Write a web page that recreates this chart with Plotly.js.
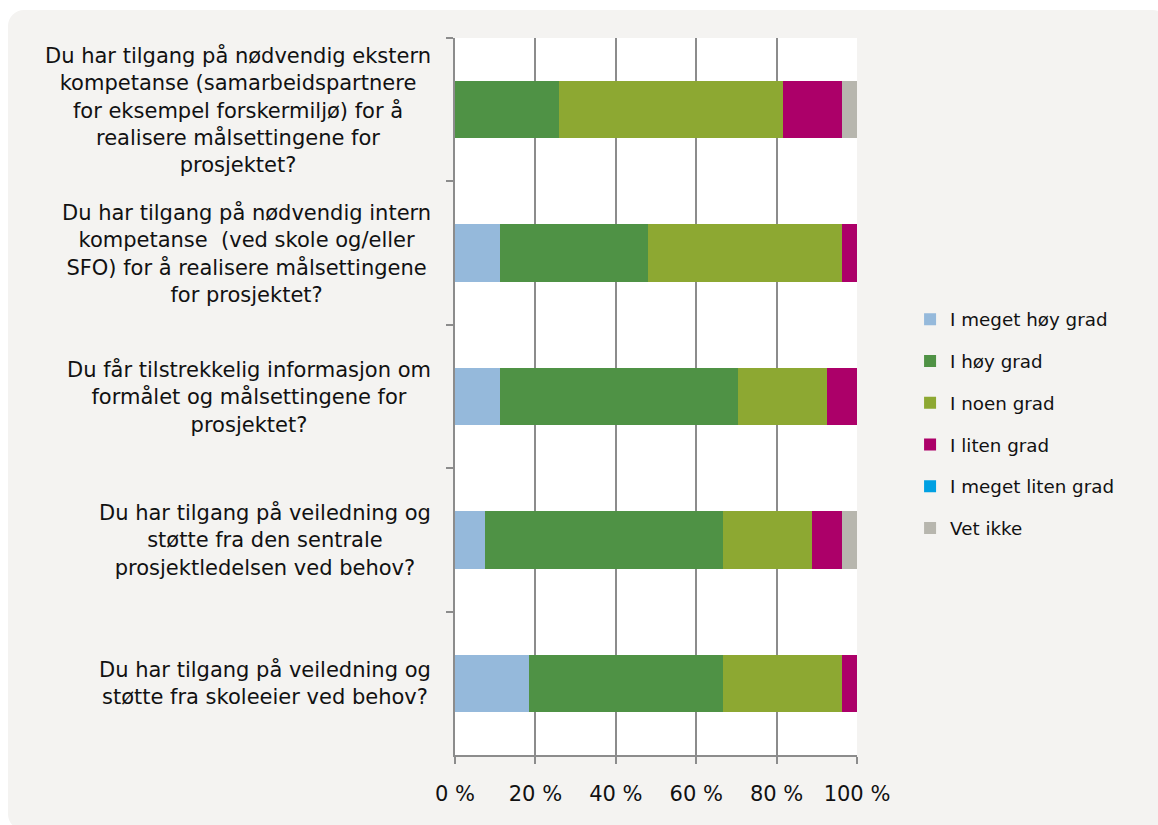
<!DOCTYPE html>
<html>
<head>
<meta charset="utf-8">
<script src="https://cdn.plot.ly/plotly-3.0.1.min.js"></script>
<style>
  html, body { margin: 0; padding: 0; background: #ffffff; }
  #wrap { position: relative; width: 1158px; height: 825px; overflow: hidden; }
  #bg { position: absolute; left: 8px; top: 10px; width: 1160px; height: 820px; background: #F4F3F1; border-radius: 16px; }
  #chart { position: absolute; left: 0; top: 0; width: 1158px; height: 825px; }
</style>
</head>
<body>
<div id="wrap"><div id="bg"></div><div id="chart"></div></div>
<script>
const categories = [
  "Du har tilgang på nødvendig ekstern<br>kompetanse (samarbeidspartnere<br>for eksempel forskermiljø) for å<br>realisere målsettingene for<br>prosjektet?",
  "Du har tilgang på nødvendig intern<br>kompetanse  (ved skole og/eller<br>SFO) for å realisere målsettingene<br>for prosjektet?",
  "Du får tilstrekkelig informasjon om<br>formålet og målsettingene for<br>prosjektet?",
  "Du har tilgang på veiledning og<br>støtte fra den sentrale<br>prosjektledelsen ved behov?",
  "Du har tilgang på veiledning og<br>støtte fra skoleeier ved behov?"
];
const seriesNames = ["I meget høy grad", "I høy grad", "I noen grad", "I liten grad", "I meget liten grad", "Vet ikke"];
const megetHoy   = [0,    11.1, 11.1, 7.4,  18.5];
const hoy        = [25.9, 37.0, 59.3, 59.3, 48.1];
const noen       = [55.6, 48.1, 22.2, 22.2, 29.6];
const liten      = [14.8, 3.7,  7.4,  7.4,  3.7];
const megetLiten = [0,    0,    0,    0,    0];
const vetIkke    = [3.7,  0,    0,    3.7,  0];
const xTickVals  = [0, 20, 40, 60, 80, 100];
const xTickText  = ["0 %", "20 %", "40 %", "60 %", "80 %", "100 %"];

const colors = ["#95B9DB", "#4F9245", "#8DA832", "#AC0069", "#00A0E2", "#B7B6AE"];
const allSeries = [megetHoy, hoy, noen, liten, megetLiten, vetIkke];
const ids = categories.map((c, i) => "q" + i);

const traces = allSeries.map((vals, i) => ({
  type: "bar",
  orientation: "h",
  name: seriesNames[i],
  x: vals,
  y: ids,
  marker: { color: colors[i], line: { width: 0 } },
  legendgroup: "g" + i,
  hoverinfo: "name+x"
}));

const FONT = "Verdana, 'DejaVu Sans', sans-serif";
const annotations = categories.map((c, i) => ({
  xref: "paper", yref: "y",
  x: 0, y: ids[i],
  xanchor: "right", yanchor: "middle",
  xshift: -22,
  text: c,
  align: "center",
  showarrow: false,
  font: { family: FONT, size: 21, color: "#111111" }
}));

const layout = {
  width: 1158, height: 825,
  paper_bgcolor: "rgba(0,0,0,0)",
  plot_bgcolor: "#ffffff",
  margin: { l: 455, r: 301, t: 38, b: 70 },
  barmode: "stack",
  bargap: 0.6,
  showlegend: true,
  font: { family: FONT, size: 18, color: "#111111" },
  xaxis: {
    range: [0, 100],
    tickvals: xTickVals,
    ticktext: xTickText,
    showgrid: true, gridcolor: "#8c8c8c", gridwidth: 2,
    showline: true, linecolor: "#8c8c8c", linewidth: 2,
    ticks: "outside", ticklen: 7, tickwidth: 2, tickcolor: "#8c8c8c",
    ticklabelstandoff: 12,
    zeroline: false,
    tickfont: { family: FONT, size: 21, color: "#111111" },
    fixedrange: true
  },
  yaxis: {
    type: "category",
    autorange: "reversed",
    showticklabels: false,
    showgrid: false,
    showline: true, linecolor: "#8c8c8c", linewidth: 2,
    ticks: "outside", ticklen: 7, tickwidth: 2, tickcolor: "#8c8c8c",
    tickson: "boundaries",
    zeroline: false,
    fixedrange: true
  },
  legend: {
    x: 1.132, xanchor: "left", xref: "paper",
    y: 0.462, yanchor: "middle",
    traceorder: "grouped",
    tracegroupgap: 15,
    itemwidth: 30,
    bgcolor: "rgba(0,0,0,0)",
    font: { family: FONT, size: 18.3, color: "#111111" }
  },
  annotations: annotations
};

Plotly.newPlot("chart", traces, layout, { displayModeBar: false, staticPlot: false });
</script>
</body>
</html>
